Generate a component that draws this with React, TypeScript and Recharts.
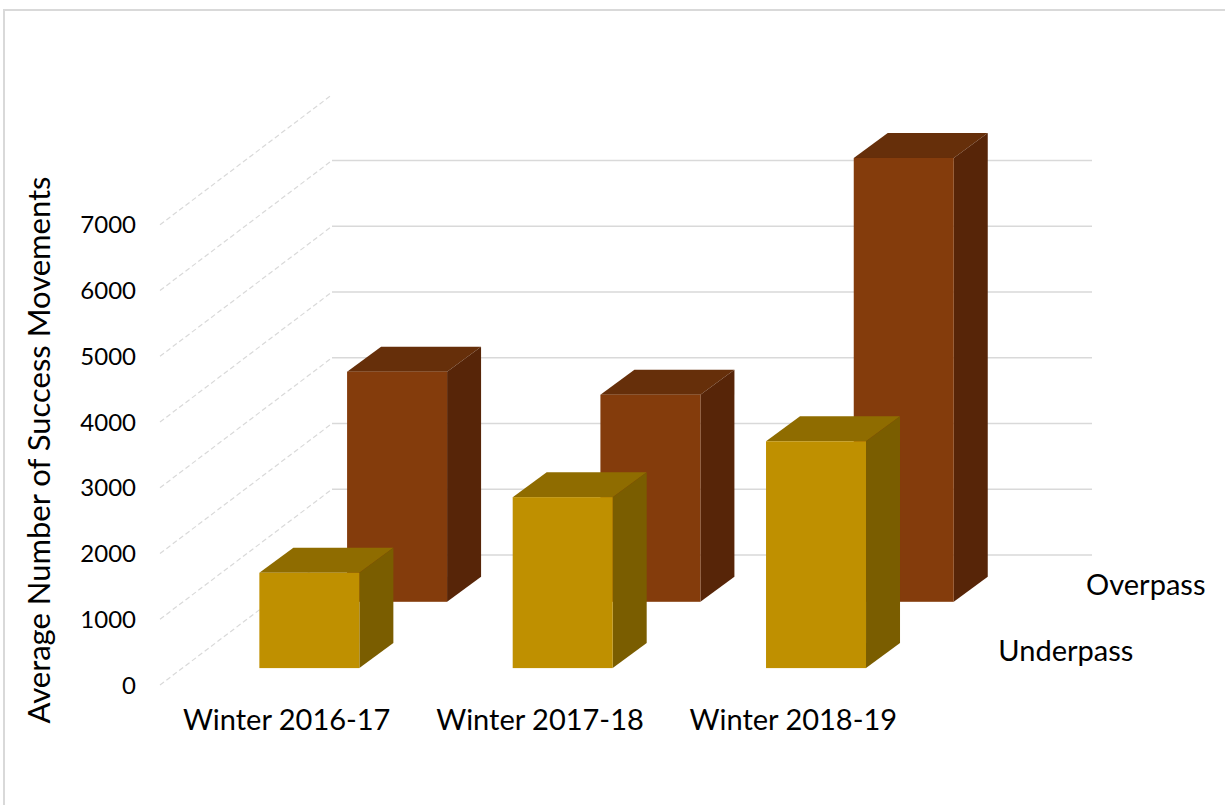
import React from "react";
import { BarChart, Bar, XAxis, YAxis, CartesianGrid, ReferenceLine } from "recharts";

const categories = ["Winter 2016-17", "Winter 2017-18", "Winter 2018-19"];
const underpass = [1450, 2600, 3450];
const overpass = [3500, 3150, 6750];
const yTicks = [0, 1000, 2000, 3000, 4000, 5000, 6000, 7000];
const seriesNames = ["Underpass", "Overpass"];

const data = categories.map((name, i) => ({
  name,
  underpass: underpass[i],
  overpass: overpass[i],
}));

// projection of the floor depth (front plane -> back wall)
const DEPTH_X = 172;
const DEPTH_Y = 130;
// thickness of one column
const COL_DX = 34;
const COL_DY = 25;

// where each series row stands on the floor (0 = front, 1 = back wall)
const rows: Record<string, { depth: number; front: string; top: string; side: string }> = {
  Underpass: { depth: 0.13, front: "#bf9000", top: "#8f6c00", side: "#7a5d00" },
  Overpass: { depth: 0.64, front: "#843c0c", top: "#662f0a", side: "#572508" },
};

const FONT = "Lato, 'Open Sans', sans-serif";

const makeColumn = (series: string) => (props: any) => {
  const { x, y, width, height } = props;
  const r = rows[series];
  const ox = x + r.depth * DEPTH_X;
  const oy = y - r.depth * DEPTH_Y;
  const right = ox + width;
  const bottom = oy + height;
  const top = `${ox},${oy} ${ox + COL_DX},${oy - COL_DY} ${right + COL_DX},${oy - COL_DY} ${right},${oy}`;
  const side = `${right},${oy} ${right + COL_DX},${oy - COL_DY} ${right + COL_DX},${bottom - COL_DY} ${right},${bottom}`;
  return (
    <g>
      <polygon points={top} fill={r.top} />
      <polygon points={side} fill={r.side} />
      <rect x={ox} y={oy} width={width} height={height} fill={r.front} />
    </g>
  );
};

// side wall diagonals + back wall gridlines (top tick has no back line)
const WallLine = (props: any) => {
  const { x1, y1, x2, index } = props;
  const bx = x1 + DEPTH_X;
  const by = y1 - DEPTH_Y;
  return (
    <g key={`wall-${index}`}>
      <line x1={x1} y1={y1} x2={bx} y2={by} stroke="#d9d9d9" strokeWidth={1.2} strokeDasharray="5 3" />
      {index < yTicks.length - 1 && (
        <line x1={bx} y1={by} x2={x2 + DEPTH_X} y2={by} stroke="#d9d9d9" strokeWidth={1.5} />
      )}
    </g>
  );
};

const DepthLabels = (props: any) => {
  const { x2, y1 } = props;
  return (
    <g>
      {seriesNames.map((s) => (
        <text
          key={s}
          x={x2 + rows[s].depth * DEPTH_X + 56}
          y={y1 - rows[s].depth * DEPTH_Y - 14}
          dominantBaseline="middle"
          fontSize={29}
          fontFamily={FONT}
          fill="#000"
        >
          {s}
        </text>
      ))}
    </g>
  );
};

const AxisTitle = ({ viewBox }: any) => {
  const cx = viewBox.x + 42;
  const cy = viewBox.y + viewBox.height / 2 + 28;
  return (
    <text
      x={cx}
      y={cy}
      transform={`rotate(-90 ${cx} ${cy})`}
      textAnchor="middle"
      dominantBaseline="middle"
      fontSize={31}
      fontFamily={FONT}
      fill="#000"
    >
      Average Number of Success Movements
    </text>
  );
};

export default function App() {
  return (
    <div
      style={{
        position: "absolute",
        left: 0,
        top: 0,
        width: 1225,
        height: 805,
        overflow: "hidden",
        background: "#fff",
        fontFamily: FONT,
      }}
    >
      <div
        style={{
          position: "absolute",
          left: 3,
          top: 9,
          width: 1240,
          height: 820,
          border: "2px solid #d9d9d9",
        }}
      />
      <div style={{ position: "absolute", left: 0, top: 0 }}>
        <BarChart
          width={1225}
          height={805}
          data={data}
          margin={{ top: 159, right: 305, bottom: 60, left: 0 }}
        >
          <CartesianGrid vertical={false} horizontalValues={yTicks} horizontal={WallLine} />
          <XAxis
            dataKey="name"
            axisLine={false}
            tickLine={false}
            tickSize={0}
            tickMargin={24}
            height={60}
            tick={{ fontSize: 29, fill: "#000", fontFamily: FONT }}
          />
          <XAxis dataKey="name" xAxisId="back" hide height={0} />
          <YAxis
            width={160}
            domain={[0, 8000]}
            ticks={yTicks}
            axisLine={false}
            tickLine={false}
            tickSize={0}
            tickMargin={24}
            tick={{ fontSize: 24, fill: "#000", fontFamily: FONT }}
            label={{ value: "Average Number of Success Movements", content: AxisTitle }}
          />
          <Bar
            dataKey="overpass"
            name="Overpass"
            xAxisId="back"
            barSize={100}
            shape={makeColumn("Overpass")}
            isAnimationActive={false}
          />
          <Bar
            dataKey="underpass"
            name="Underpass"
            barSize={100}
            shape={makeColumn("Underpass")}
            isAnimationActive={false}
          />
          <ReferenceLine y={0} shape={DepthLabels} />
        </BarChart>
      </div>
    </div>
  );
}
